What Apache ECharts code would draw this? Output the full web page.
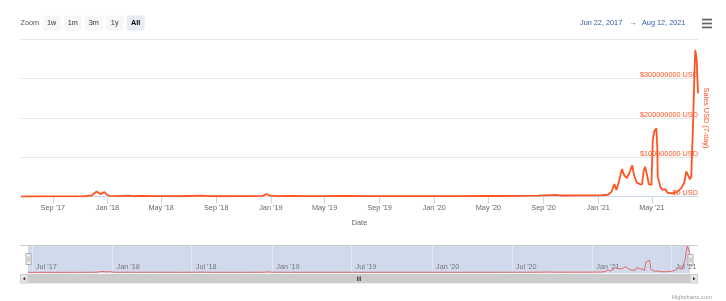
<!DOCTYPE html>
<html><head><meta charset="utf-8">
<script src="https://cdn.jsdelivr.net/npm/echarts@6/dist/echarts.min.js"></script>
<style>html,body{margin:0;padding:0;background:#fff}#c{width:726px;height:301px}</style>
</head><body><div id="c"></div>
<script>
// ---- data ----
const dates = [
 '2017-06-22','2017-07-15','2017-08-15','2017-09-15','2017-10-15','2017-11-10','2017-11-27','2017-12-03','2017-12-08','2017-12-12',
 '2017-12-17','2017-12-21','2017-12-25','2017-12-30','2018-01-05','2018-01-25','2018-02-16','2018-03-01','2018-03-21','2018-04-10',
 '2018-05-15','2018-06-15','2018-07-30','2018-08-15','2018-09-15','2018-10-20','2018-11-20','2018-12-14','2018-12-22','2018-12-30',
 '2019-01-20','2019-02-10','2019-03-15','2019-05-01','2019-06-15','2019-08-01','2019-09-15','2019-11-01','2020-01-01','2020-03-01',
 '2020-05-01','2020-07-01','2020-08-20','2020-09-30','2020-10-10','2020-11-15','2020-12-15','2021-01-10','2021-01-23','2021-01-31',
 '2021-02-06','2021-02-11','2021-02-17','2021-02-23','2021-02-28','2021-03-06','2021-03-10','2021-03-13','2021-03-18','2021-03-22',
 '2021-03-28','2021-04-04','2021-04-09','2021-04-13','2021-04-16','2021-04-21','2021-04-24','2021-04-30','2021-05-03','2021-05-06',
 '2021-05-11','2021-05-13','2021-05-14','2021-05-20','2021-05-25','2021-05-31','2021-06-05','2021-06-16','2021-06-27','2021-07-05',
 '2021-07-12','2021-07-17','2021-07-21','2021-07-25','2021-07-28','2021-08-01','2021-08-04','2021-08-06','2021-08-09','2021-08-12'
];
const salesMillionsUSD = [
 0.3,0.5,0.6,0.8,1.0,1.2,3,9,13,10,
 6.5,10,12,6,2,1.5,2.5,1.5,2.2,1.5,
 1.4,1.2,2.8,1.3,1.2,1.3,1.5,2,7,2.5,
 1.5,2,1.4,1.5,1.8,1.6,1.5,1.7,1.5,1.6,
 1.8,2,2.5,4.5,3,3.2,3.5,4,5,13,
 32,17,42,70,55,47,42,64,80,55,
 36,32,31,68,76,51,32,30,144,165,
 174,127,51,25,17,19,10,8.5,13,21,
 34,64,59,44,51,187,314,373,347,263
];
const mainTickDates = ['2017-09-01','2018-01-01','2018-05-01','2018-09-01','2019-01-01','2019-05-01','2019-09-01','2020-01-01','2020-05-01','2020-09-01','2021-01-01','2021-05-01'];
const navTickDates = ['2017-07-01','2018-01-01','2018-07-01','2019-01-01','2019-07-01','2020-01-01','2020-07-01','2021-01-01','2021-07-01'];
const yTickValues = [0, 100000000, 200000000, 300000000, 400000000];
const rangeStart = '2017-06-22';
const rangeEnd = '2021-08-12';
const rangeLabels = ['Jun 22, 2017', 'Aug 12, 2021'];
const zoomButtons = ['1w', '1m', '3m', '1y', 'All'];
const seriesName = 'Sales USD (7-day)';
const xAxisTitle = 'Date';

// ---- build ----
const ts = s => Date.parse(s + 'T00:00:00Z');
const MON = ['Jan','Feb','Mar','Apr','May','Jun','Jul','Aug','Sep','Oct','Nov','Dec'];
const fmtMonth = v => { const d = new Date(v); return MON[d.getUTCMonth()] + " '" + String(d.getUTCFullYear()).slice(2); };
const seriesData = dates.map((d, i) => [ts(d), salesMillionsUSD[i] * 1e6]);
const FONT = 'Liberation Sans';
const ORANGE = '#ff5322';
const FS = 7.3;

const graphics = [];
graphics.push({type:'text', x:20.5, y:23.3, style:{text:'Zoom', fill:'#555', fontSize:FS, fontFamily:FONT, align:'left', textAlign:'left', verticalAlign:'middle', textVerticalAlign:'middle'}});
zoomButtons.forEach((b, i) => {
  const x = 42.7 + i * 21;
  const sel = b === 'All';
  graphics.push({type:'rect', shape:{x:x, y:15.5, width:18, height:15.3, r:2}, style:{fill: sel ? '#e6ebf5' : '#f7f7f7'}});
  graphics.push({type:'text', x:x + 9, y:23.3, style:{text:b, fill: sel ? '#000' : '#333', fontSize:FS, fontWeight: sel ? 'bold' : 'normal', fontFamily:FONT, align:'center', textAlign:'center', verticalAlign:'middle', textVerticalAlign:'middle'}});
});
graphics.push({type:'text', x:580, y:23, style:{text:rangeLabels[0], fill:'#335cad', fontSize:FS, fontFamily:FONT, align:'left', textAlign:'left', verticalAlign:'middle', textVerticalAlign:'middle'}});
graphics.push({type:'text', x:633, y:23, style:{text:'\u2192', fill:'#333', fontSize:FS, fontFamily:FONT, align:'center', textAlign:'center', verticalAlign:'middle', textVerticalAlign:'middle'}});
graphics.push({type:'text', x:642, y:23, style:{text:rangeLabels[1], fill:'#335cad', fontSize:FS, fontFamily:FONT, align:'left', textAlign:'left', verticalAlign:'middle', textVerticalAlign:'middle'}});
[18.7, 22.6, 26.5].forEach(y => graphics.push({type:'rect', shape:{x:702, y:y, width:10, height:1.8}, style:{fill:'#666'}}));
// navigator outline
graphics.push({type:'line', shape:{x1:20, y1:245.5, x2:698, y2:245.5}, style:{stroke:'#cccccc', lineWidth:1}});
// scrollbar
graphics.push({type:'rect', shape:{x:20, y:274, width:678, height:9.3}, style:{fill:'#f2f2f2'}});
graphics.push({type:'rect', shape:{x:28, y:274, width:662, height:9.3}, style:{fill:'#cccccc'}});
graphics.push({type:'rect', shape:{x:20.5, y:274.5, width:7.5, height:8.5}, style:{fill:'#e6e6e6', stroke:'#cccccc', lineWidth:1}});
graphics.push({type:'rect', shape:{x:690, y:274.5, width:7.5, height:8.5}, style:{fill:'#e6e6e6', stroke:'#cccccc', lineWidth:1}});
graphics.push({type:'polygon', shape:{points:[[22.8,278.7],[25.3,277],[25.3,280.4]]}, style:{fill:'#333'}});
graphics.push({type:'polygon', shape:{points:[[695.5,278.7],[693,277],[693,280.4]]}, style:{fill:'#333'}});
[357.5, 359, 360.5].forEach(x => graphics.push({type:'line', shape:{x1:x, y1:276.5, x2:x, y2:281}, style:{stroke:'#333', lineWidth:0.8}}));
// handles
[[26, 253.5], [688, 254.5]].forEach(([x, y]) => {
  graphics.push({type:'rect', shape:{x:x, y:y, width:5, height:11}, style:{fill:'#f2f2f2', stroke:'#999', lineWidth:0.8}});
  graphics.push({type:'line', shape:{x1:x+2, y1:y+3, x2:x+2, y2:y+8}, style:{stroke:'#999', lineWidth:0.6}});
  graphics.push({type:'line', shape:{x1:x+3, y1:y+3, x2:x+3, y2:y+8}, style:{stroke:'#999', lineWidth:0.6}});
});
graphics.push({type:'text', x:712, y:297, style:{text:'Highcharts.com', fill:'#999', fontSize:5.8, fontFamily:FONT, align:'right', textAlign:'right', verticalAlign:'middle', textVerticalAlign:'middle'}});

const chart = echarts.init(document.getElementById('c'), null, {renderer:'canvas'});
chart.setOption({
  animation:false,
  backgroundColor:'#fff',
  textStyle:{fontFamily:FONT},
  grid:[
    {left:21, right:28, top:39.3, height:157.4},
    {left:28, right:36, top:245, height:28.3, show:true, backgroundColor:'#d1daed', borderWidth:0}
  ],
  xAxis:[
    {type:'value', gridIndex:0, min:ts(rangeStart), max:ts(rangeEnd),
     name:xAxisTitle, nameLocation:'middle', nameGap:22.5, nameTextStyle:{color:'#666', fontSize:FS, fontFamily:FONT},
     axisLine:{show:true, lineStyle:{color:'#ccd6eb', width:1}},
     axisTick:{show:true, length:7, lineStyle:{color:'#ccd6eb'}, customValues: mainTickDates.map(ts)},
     axisLabel:{color:'#666', fontSize:FS, margin:8, fontFamily:FONT, customValues: mainTickDates.map(ts), formatter: fmtMonth},
     splitLine:{show:false}},
    {type:'value', gridIndex:1, min:ts(rangeStart), max:ts(rangeEnd),
     axisLine:{show:false},
     axisTick:{show:false, customValues: navTickDates.map(ts)},
     axisLabel:{inside:true, color:'#777', fontSize:FS, margin:3, align:'left', padding:[0,0,0,4], fontFamily:FONT, customValues: navTickDates.map(ts), formatter: fmtMonth},
     splitLine:{show:true, lineStyle:{color:'#e6e6e6', width:1}}}
  ],
  yAxis:[
    {type:'value', gridIndex:0, position:'right', min:0, max:yTickValues[yTickValues.length-1], interval:yTickValues[1]-yTickValues[0],
     name:seriesName, nameLocation:'middle', nameRotate:-90, nameGap:4.5, nameMoveOverlap:false, nameTextStyle:{color:ORANGE, fontSize:FS, fontFamily:FONT},
     axisLine:{show:false}, axisTick:{show:false},
     axisLabel:{inside:true, margin:0, color:ORANGE, fontSize:FS, fontFamily:FONT, verticalAlign:'bottom', showMaxLabel:false,
                formatter: v => '$' + v + ' USD'},
     splitLine:{show:true, lineStyle:{color:'#e6e6e6', width:1}}},
    {type:'value', gridIndex:1, min: v => -v.max * 0.035, max: v => v.max * 1.04, show:false, splitLine:{show:false}}
  ],
  series:[
    {type:'line', name:seriesName, xAxisIndex:0, yAxisIndex:0, data:seriesData, showSymbol:false, smooth:false,
     lineStyle:{color:ORANGE, width:1.8}, itemStyle:{color:ORANGE}, z:3},
    {type:'line', name:seriesName + ' nav', xAxisIndex:1, yAxisIndex:1, data:seriesData, showSymbol:false, smooth:false,
     lineStyle:{color:'#e0685f', width:1}, itemStyle:{color:'#e0685f'}}
  ],
  graphic:{elements:graphics}
});
</script>
</body></html>
